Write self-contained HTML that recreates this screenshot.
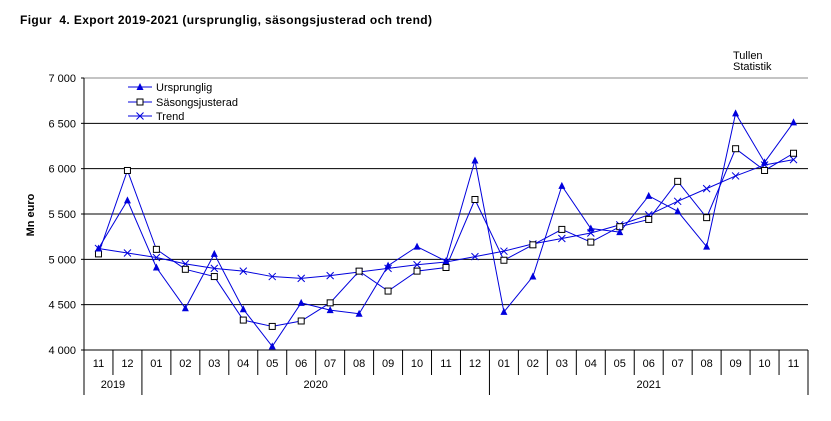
<!DOCTYPE html>
<html><head><meta charset="utf-8"><style>
body{margin:0;background:#fff;width:831px;height:416px;overflow:hidden}
svg{font-family:"Liberation Sans",Arial,sans-serif}
</style></head><body>
<svg id="s" width="831" height="416" xmlns="http://www.w3.org/2000/svg"></svg>
<script>
const s=document.getElementById('s');
let h='';
const X0=84,X1=808,N=25,W=(X1-X0)/N;
const Y=v=>78+(7000-v)*(272/3000);
const cx=i=>X0+W*(i+0.5);
h+='<text x="20" y="24" font-size="12" font-weight="bold" textLength="412" style="white-space:pre">Figur  4. Export 2019-2021 (ursprunglig, säsongsjusterad och trend)</text>';
h+='<text x="733" y="59" font-size="11">Tullen</text><text x="733" y="70" font-size="11">Statistik</text>';
h+='<text transform="translate(34,215) rotate(-90)" text-anchor="middle" font-size="11" font-weight="bold">Mn euro</text>';
for(let k=0;k<=6;k++){const v=4000+k*500,y=Y(v);
 if(k>0)h+=`<line x1="${X0}" x2="${X1}" y1="${y}" y2="${y}" stroke="${k==6?'#888':'#000'}" stroke-width="1"/>`;
 h+=`<line x1="81" x2="${X0}" y1="${y}" y2="${y}" stroke="#000"/>`;
 h+=`<text x="76" y="${y+4}" text-anchor="end" font-size="11">${v==4000?'4 000':(v/1000|0)+' '+String(v%1000).padStart(3,'0')}</text>`;}
h+=`<line x1="${X0}" x2="${X0}" y1="78" y2="395" stroke="#000"/>`;
h+=`<line x1="${X0}" x2="${X1}" y1="350" y2="350" stroke="#000"/>`;
const m=['11','12','01','02','03','04','05','06','07','08','09','10','11','12','01','02','03','04','05','06','07','08','09','10','11'];
for(let i=0;i<N;i++){const x=X0+W*(i+1);h+=`<line x1="${x}" x2="${x}" y1="350" y2="${(i==1||i==13||i==24)?395:375}" stroke="#000"/>`;
 h+=`<text x="${cx(i)}" y="367" text-anchor="middle" font-size="11">${m[i]}</text>`;}
h+=`<text x="${X0+W}" y="388" text-anchor="middle" font-size="11">2019</text>`;
h+=`<text x="${X0+W*8}" y="388" text-anchor="middle" font-size="11">2020</text>`;
h+=`<text x="${X0+W*19.5}" y="388" text-anchor="middle" font-size="11">2021</text>`;
const U=[5120,5650,4910,4460,5060,4450,4040,4520,4440,4400,4930,5140,4980,6090,4420,4810,5810,5340,5300,5700,5530,5140,6610,6070,6510];
const S=[5060,5980,5110,4890,4810,4330,4260,4320,4520,4870,4650,4870,4910,5660,4990,5160,5330,5190,5360,5440,5860,5460,6220,5980,6170];
const T=[5120,5070,5020,4950,4900,4870,4810,4790,4820,4860,4900,4940,4970,5030,5090,5170,5230,5290,5380,5490,5640,5780,5920,6040,6100];
const C='#0000dd';
const line=a=>`<polyline fill="none" stroke="${C}" stroke-width="1" points="${a.map((v,i)=>cx(i)+','+Y(v)).join(' ')}"/>`;
h+=line(T)+line(S)+line(U);
const tri=(x,y)=>`<polygon points="${x},${y-4} ${x-3.5},${y+3} ${x+3.5},${y+3}" fill="${C}"/>`;
const sq=(x,y)=>`<rect x="${x-3}" y="${y-3}" width="6" height="6" fill="#fff" stroke="#000" stroke-width="1"/>`;
const cr=(x,y)=>`<path d="M${x-3.5},${y-3.5}L${x+3.5},${y+3.5}M${x-3.5},${y+3.5}L${x+3.5},${y-3.5}" stroke="${C}"/>`;
T.forEach((v,i)=>h+=cr(cx(i),Y(v)));S.forEach((v,i)=>h+=sq(cx(i),Y(v)));U.forEach((v,i)=>h+=tri(cx(i),Y(v)));
[[87,tri,'Ursprunglig'],[102,sq,'Säsongsjusterad'],[116,cr,'Trend']].forEach(([y,f,t])=>{
 h+=`<line x1="128" x2="152" y1="${y}" y2="${y}" stroke="${C}"/>`+f(140,y)+`<text x="156" y="${y+4}" font-size="11">${t}</text>`;});
s.innerHTML=h;
</script>
</body></html>
